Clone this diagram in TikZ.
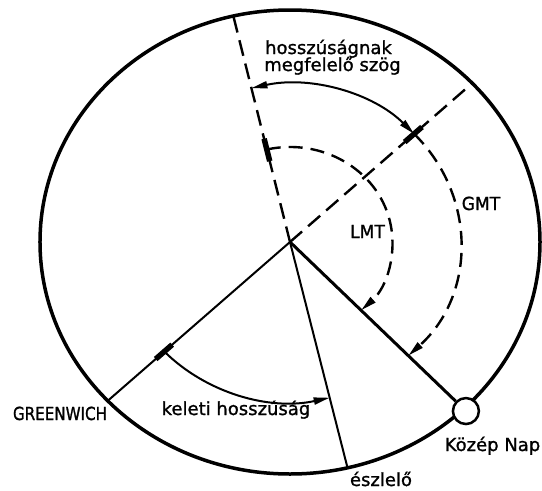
\documentclass[tikz,border=0pt]{standalone}
\usepackage{fontspec}
\usetikzlibrary{arrows.meta}
\newfontfamily\lowf[FakeBold=1.2]{DejaVu Sans}
\newfontfamily\capf[FakeStretch=0.95,FakeBold=1.2]{DejaVu Sans}
\newfontfamily\gwf[FakeStretch=0.84,FakeBold=1.2]{DejaVu Sans}
\begin{document}
\begin{tikzpicture}[x=1pt,y=1pt,
  lbl/.style={inner sep=0pt, anchor=base, font=\lowf\fontsize{18}{21}\selectfont},
  caplbl/.style={inner sep=0pt, anchor=base, font=\capf\fontsize{18}{21}\selectfont},
  gwlbl/.style={inner sep=0pt, anchor=base, font=\gwf\fontsize{18}{21}\selectfont},
  rim/.style={line width=3.5pt},
  thinray/.style={line width=2pt},
  sunray/.style={line width=3pt},
  dashray/.style={line width=2.4pt, dash pattern=on 16pt off 8pt},
  solidarc/.style={line width=2pt},
  dasharc/.style={line width=2.4pt, dash pattern=on 14pt off 8pt},
  tip/.style={-{Triangle[length=16pt,width=7pt]}},
  bothtip/.style={{Triangle[length=16pt,width=7pt]}-{Triangle[length=16pt,width=7pt]}},
  startbar/.style={line width=5.5pt},
  sunbox/.style={circle, draw, fill=white, line width=2.5pt, minimum size=26pt, inner sep=0pt},
]
\useasboundingbox (0,0) rectangle (542,-491);
\begin{scope}[shift={(290,-242)}, xscale=1.0776]
  \coordinate (C) at (0,0);
  \coordinate (G) at (223.2:232);
  \coordinate (E) at (283.3:232);
  \coordinate (GA) at (43.2:232);
  \coordinate (EA) at (103.1:232);
  \draw[rim] (C) circle (232);
  \draw[thinray] (C) -- (G);
  \draw[thinray] (C) -- (E);
  \draw[dashray] (C) -- (GA);
  \draw[dashray] (C) -- (EA);
  % arcs
  \draw[solidarc,bothtip] (103.1:158) arc[start angle=103.1, end angle=43.2, radius=158];
  \draw[dasharc,tip] (43.2:158) arc[start angle=43.2, end angle=-46, radius=158];
  \draw[dasharc,tip] (103.1:95) arc[start angle=103.1, end angle=-46, radius=95];
  \draw[solidarc,tip] (223.2:160) arc[start angle=223.2, end angle=283.3, radius=160];
  % start bars
  \draw[startbar] (103.1:83) -- (103.1:106);
  \draw[startbar] (43.2:146) -- (43.2:168);
  \draw[startbar] (223.2:150) -- (223.2:171);
  % mean sun
  \node[sunbox] (sun) at (-46:235) {};
  \draw[sunray] (C) -- (sun);
\end{scope}
\node[lbl] (t1) at (328.5,-54) {hosszúságnak};
\node[lbl] (t2) at (332.5,-71) {megfelelő szög};
\node[caplbl] (gmt) at (481,-210) {GMT};
\node[caplbl] (lmt) at (367.5,-238) {LMT};
\node[gwlbl] (gw) at (60,-420) {GREENWICH};
\node[lbl] (kh) at (236,-415) {keleti hosszúság};
\node[lbl] (kn) at (492.5,-451) {Közép Nap};
\node[lbl] (esz) at (381,-486) {észlelő};
\end{tikzpicture}
\end{document}
